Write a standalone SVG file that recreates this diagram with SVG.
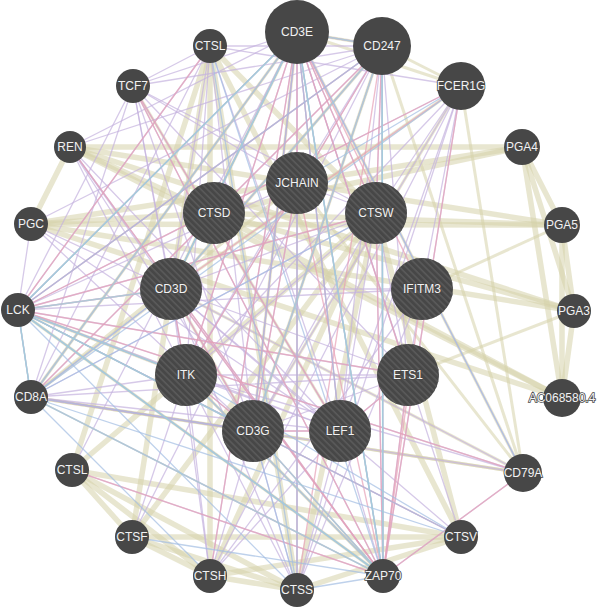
<svg xmlns="http://www.w3.org/2000/svg" width="600" height="609" viewBox="0 0 600 609">
<defs>
<style>
.e line{fill:none;stroke-linecap:round}
.d line{stroke:#d6d2aa;stroke-width:5.5;stroke-opacity:.55}
.d2 line{stroke:#d6d2aa;stroke-width:3;stroke-opacity:.55}
.c line{stroke:#c4b2de;stroke-width:1.3;stroke-opacity:.7}
.p line{stroke:#e7a1b6;stroke-width:1.4;stroke-opacity:.7}
.l line{stroke:#a3bde2;stroke-width:1.3;stroke-opacity:.7}
.w line{stroke:#9dd3dd;stroke-width:1.6;stroke-opacity:.7}
.n circle{fill:#474747}
.n circle.h{fill:url(#hatch)}
.n text{font-family:"Liberation Sans",Arial,sans-serif;font-size:12px;fill:#f2f2f2;text-anchor:middle;dominant-baseline:central;stroke:#474747;stroke-width:1.5;paint-order:stroke}
</style>
<pattern id="hatch" patternUnits="userSpaceOnUse" width="4.5" height="4.5" patternTransform="rotate(45)">
<rect x="0" y="0" width="4.5" height="1.6" fill="#5a5a5a"/>
</pattern>
</defs>
<rect width="600" height="609" fill="#ffffff"/>
<g id="connectors" class="e">
<g class="d">
<line x1="70" y1="147" x2="31" y2="224"/>
<line x1="70" y1="147" x2="574" y2="311"/>
<line x1="70" y1="147" x2="562" y2="225"/>
<line x1="70" y1="147" x2="522" y2="147"/>
<line x1="70" y1="147" x2="562" y2="398"/>
<line x1="70" y1="147" x2="214" y2="213"/>
<line x1="31" y1="224" x2="574" y2="311"/>
<line x1="31" y1="224" x2="562" y2="225"/>
<line x1="31" y1="224" x2="522" y2="147"/>
<line x1="31" y1="224" x2="562" y2="398"/>
<line x1="31" y1="224" x2="214" y2="213"/>
<line x1="574" y1="311" x2="562" y2="225"/>
<line x1="574" y1="311" x2="522" y2="147"/>
<line x1="574" y1="311" x2="562" y2="398"/>
<line x1="574" y1="311" x2="214" y2="213"/>
<line x1="562" y1="225" x2="522" y2="147"/>
<line x1="562" y1="225" x2="562" y2="398"/>
<line x1="562" y1="225" x2="214" y2="213"/>
<line x1="522" y1="147" x2="562" y2="398"/>
<line x1="522" y1="147" x2="214" y2="213"/>
<line x1="562" y1="398" x2="214" y2="213"/>
<line x1="210" y1="46" x2="72" y2="470"/>
<line x1="210" y1="46" x2="132" y2="537"/>
<line x1="210" y1="46" x2="210" y2="576"/>
<line x1="210" y1="46" x2="297" y2="590"/>
<line x1="210" y1="46" x2="461" y2="537"/>
<line x1="210" y1="46" x2="376" y2="213"/>
<line x1="72" y1="470" x2="132" y2="537"/>
<line x1="72" y1="470" x2="210" y2="576"/>
<line x1="72" y1="470" x2="297" y2="590"/>
<line x1="72" y1="470" x2="461" y2="537"/>
<line x1="72" y1="470" x2="376" y2="213"/>
<line x1="132" y1="537" x2="210" y2="576"/>
<line x1="132" y1="537" x2="297" y2="590"/>
<line x1="132" y1="537" x2="461" y2="537"/>
<line x1="132" y1="537" x2="376" y2="213"/>
<line x1="210" y1="576" x2="297" y2="590"/>
<line x1="210" y1="576" x2="461" y2="537"/>
<line x1="210" y1="576" x2="376" y2="213"/>
<line x1="297" y1="590" x2="461" y2="537"/>
<line x1="297" y1="590" x2="376" y2="213"/>
<line x1="461" y1="537" x2="376" y2="213"/>
</g>
<g class="d2">
<line x1="297" y1="32" x2="382" y2="46"/>
<line x1="297" y1="32" x2="461" y2="86"/>
<line x1="297" y1="32" x2="523" y2="473"/>
<line x1="297" y1="32" x2="171" y2="289"/>
<line x1="297" y1="32" x2="253" y2="431"/>
<line x1="382" y1="46" x2="461" y2="86"/>
<line x1="382" y1="46" x2="523" y2="473"/>
<line x1="382" y1="46" x2="171" y2="289"/>
<line x1="382" y1="46" x2="253" y2="431"/>
<line x1="461" y1="86" x2="523" y2="473"/>
<line x1="461" y1="86" x2="171" y2="289"/>
<line x1="461" y1="86" x2="253" y2="431"/>
<line x1="523" y1="473" x2="171" y2="289"/>
<line x1="523" y1="473" x2="253" y2="431"/>
<line x1="171" y1="289" x2="253" y2="431"/>
<line x1="31" y1="397" x2="297" y2="32"/>
<line x1="31" y1="397" x2="171" y2="289"/>
<line x1="31" y1="397" x2="253" y2="431"/>
<line x1="31" y1="397" x2="523" y2="473"/>
<line x1="18" y1="310" x2="186" y2="375"/>
<line x1="18" y1="310" x2="383" y2="576"/>
<line x1="186" y1="375" x2="383" y2="576"/>
<line x1="133" y1="86" x2="340" y2="431"/>
<line x1="297" y1="183" x2="31" y2="397"/>
<line x1="297" y1="183" x2="523" y2="473"/>
<line x1="422" y1="289" x2="562" y2="225"/>
<line x1="408" y1="375" x2="574" y2="311"/>
</g>
<g class="c">
<line x1="297" y1="32" x2="382" y2="46"/>
<line x1="297" y1="32" x2="171" y2="289"/>
<line x1="297" y1="32" x2="253" y2="431"/>
<line x1="297" y1="32" x2="186" y2="375"/>
<line x1="297" y1="32" x2="18" y2="310"/>
<line x1="297" y1="32" x2="31" y2="397"/>
<line x1="297" y1="32" x2="133" y2="86"/>
<line x1="297" y1="32" x2="340" y2="431"/>
<line x1="297" y1="32" x2="408" y2="375"/>
<line x1="297" y1="32" x2="383" y2="576"/>
<line x1="297" y1="32" x2="376" y2="213"/>
<line x1="382" y1="46" x2="171" y2="289"/>
<line x1="382" y1="46" x2="253" y2="431"/>
<line x1="382" y1="46" x2="186" y2="375"/>
<line x1="382" y1="46" x2="18" y2="310"/>
<line x1="382" y1="46" x2="31" y2="397"/>
<line x1="382" y1="46" x2="133" y2="86"/>
<line x1="382" y1="46" x2="340" y2="431"/>
<line x1="382" y1="46" x2="408" y2="375"/>
<line x1="382" y1="46" x2="383" y2="576"/>
<line x1="382" y1="46" x2="376" y2="213"/>
<line x1="171" y1="289" x2="253" y2="431"/>
<line x1="171" y1="289" x2="186" y2="375"/>
<line x1="171" y1="289" x2="18" y2="310"/>
<line x1="171" y1="289" x2="31" y2="397"/>
<line x1="171" y1="289" x2="133" y2="86"/>
<line x1="171" y1="289" x2="340" y2="431"/>
<line x1="171" y1="289" x2="408" y2="375"/>
<line x1="171" y1="289" x2="383" y2="576"/>
<line x1="171" y1="289" x2="376" y2="213"/>
<line x1="253" y1="431" x2="186" y2="375"/>
<line x1="253" y1="431" x2="18" y2="310"/>
<line x1="253" y1="431" x2="31" y2="397"/>
<line x1="253" y1="431" x2="133" y2="86"/>
<line x1="253" y1="431" x2="340" y2="431"/>
<line x1="253" y1="431" x2="408" y2="375"/>
<line x1="253" y1="431" x2="383" y2="576"/>
<line x1="253" y1="431" x2="376" y2="213"/>
<line x1="186" y1="375" x2="18" y2="310"/>
<line x1="186" y1="375" x2="31" y2="397"/>
<line x1="186" y1="375" x2="133" y2="86"/>
<line x1="186" y1="375" x2="340" y2="431"/>
<line x1="186" y1="375" x2="408" y2="375"/>
<line x1="186" y1="375" x2="383" y2="576"/>
<line x1="186" y1="375" x2="376" y2="213"/>
<line x1="18" y1="310" x2="31" y2="397"/>
<line x1="18" y1="310" x2="133" y2="86"/>
<line x1="18" y1="310" x2="340" y2="431"/>
<line x1="18" y1="310" x2="408" y2="375"/>
<line x1="18" y1="310" x2="383" y2="576"/>
<line x1="18" y1="310" x2="376" y2="213"/>
<line x1="31" y1="397" x2="133" y2="86"/>
<line x1="31" y1="397" x2="340" y2="431"/>
<line x1="31" y1="397" x2="408" y2="375"/>
<line x1="31" y1="397" x2="383" y2="576"/>
<line x1="31" y1="397" x2="376" y2="213"/>
<line x1="133" y1="86" x2="340" y2="431"/>
<line x1="133" y1="86" x2="408" y2="375"/>
<line x1="133" y1="86" x2="383" y2="576"/>
<line x1="133" y1="86" x2="376" y2="213"/>
<line x1="340" y1="431" x2="408" y2="375"/>
<line x1="340" y1="431" x2="383" y2="576"/>
<line x1="340" y1="431" x2="376" y2="213"/>
<line x1="408" y1="375" x2="383" y2="576"/>
<line x1="408" y1="375" x2="376" y2="213"/>
<line x1="383" y1="576" x2="376" y2="213"/>
<line x1="70" y1="147" x2="297" y2="32"/>
<line x1="70" y1="147" x2="382" y2="46"/>
<line x1="70" y1="147" x2="186" y2="375"/>
<line x1="70" y1="147" x2="340" y2="431"/>
<line x1="70" y1="147" x2="253" y2="431"/>
<line x1="70" y1="147" x2="171" y2="289"/>
<line x1="70" y1="147" x2="383" y2="576"/>
<line x1="210" y1="46" x2="133" y2="86"/>
<line x1="210" y1="46" x2="18" y2="310"/>
<line x1="210" y1="46" x2="31" y2="397"/>
<line x1="210" y1="46" x2="171" y2="289"/>
<line x1="210" y1="46" x2="186" y2="375"/>
<line x1="210" y1="46" x2="461" y2="86"/>
<line x1="210" y1="46" x2="382" y2="46"/>
<line x1="210" y1="46" x2="253" y2="431"/>
<line x1="210" y1="46" x2="340" y2="431"/>
<line x1="297" y1="183" x2="297" y2="32"/>
<line x1="297" y1="183" x2="382" y2="46"/>
<line x1="297" y1="183" x2="376" y2="213"/>
<line x1="297" y1="183" x2="186" y2="375"/>
<line x1="297" y1="183" x2="133" y2="86"/>
<line x1="297" y1="183" x2="18" y2="310"/>
<line x1="297" y1="183" x2="253" y2="431"/>
<line x1="422" y1="289" x2="297" y2="590"/>
<line x1="422" y1="289" x2="210" y2="576"/>
<line x1="422" y1="289" x2="461" y2="86"/>
<line x1="422" y1="289" x2="408" y2="375"/>
<line x1="422" y1="289" x2="18" y2="310"/>
<line x1="422" y1="289" x2="171" y2="289"/>
<line x1="461" y1="86" x2="297" y2="590"/>
<line x1="461" y1="86" x2="210" y2="576"/>
<line x1="461" y1="86" x2="376" y2="213"/>
<line x1="461" y1="86" x2="383" y2="576"/>
<line x1="461" y1="86" x2="18" y2="310"/>
<line x1="461" y1="86" x2="186" y2="375"/>
<line x1="461" y1="86" x2="253" y2="431"/>
<line x1="461" y1="86" x2="340" y2="431"/>
<line x1="523" y1="473" x2="18" y2="310"/>
<line x1="523" y1="473" x2="383" y2="576"/>
<line x1="523" y1="473" x2="171" y2="289"/>
<line x1="523" y1="473" x2="31" y2="397"/>
<line x1="523" y1="473" x2="186" y2="375"/>
<line x1="523" y1="473" x2="297" y2="32"/>
<line x1="297" y1="590" x2="297" y2="32"/>
<line x1="297" y1="590" x2="171" y2="289"/>
<line x1="297" y1="590" x2="186" y2="375"/>
<line x1="297" y1="590" x2="253" y2="431"/>
<line x1="297" y1="590" x2="340" y2="431"/>
<line x1="210" y1="576" x2="171" y2="289"/>
<line x1="210" y1="576" x2="253" y2="431"/>
<line x1="210" y1="576" x2="297" y2="32"/>
<line x1="210" y1="576" x2="186" y2="375"/>
<line x1="210" y1="576" x2="340" y2="431"/>
<line x1="461" y1="537" x2="18" y2="310"/>
<line x1="461" y1="537" x2="171" y2="289"/>
<line x1="461" y1="537" x2="297" y2="32"/>
<line x1="132" y1="537" x2="186" y2="375"/>
<line x1="132" y1="537" x2="382" y2="46"/>
<line x1="31" y1="224" x2="18" y2="310"/>
<line x1="31" y1="224" x2="171" y2="289"/>
<line x1="31" y1="224" x2="382" y2="46"/>
<line x1="31" y1="224" x2="340" y2="431"/>
<line x1="31" y1="224" x2="253" y2="431"/>
<line x1="72" y1="470" x2="297" y2="32"/>
<line x1="72" y1="470" x2="383" y2="576"/>
</g>
<g class="p">
<line x1="297" y1="32" x2="382" y2="46"/>
<line x1="297" y1="32" x2="171" y2="289"/>
<line x1="297" y1="32" x2="253" y2="431"/>
<line x1="171" y1="289" x2="253" y2="431"/>
<line x1="171" y1="289" x2="382" y2="46"/>
<line x1="253" y1="431" x2="382" y2="46"/>
<line x1="382" y1="46" x2="383" y2="576"/>
<line x1="297" y1="32" x2="383" y2="576"/>
<line x1="171" y1="289" x2="383" y2="576"/>
<line x1="253" y1="431" x2="383" y2="576"/>
<line x1="18" y1="310" x2="383" y2="576"/>
<line x1="18" y1="310" x2="31" y2="397"/>
<line x1="18" y1="310" x2="297" y2="32"/>
<line x1="18" y1="310" x2="382" y2="46"/>
<line x1="18" y1="310" x2="171" y2="289"/>
<line x1="18" y1="310" x2="253" y2="431"/>
<line x1="18" y1="310" x2="186" y2="375"/>
<line x1="186" y1="375" x2="383" y2="576"/>
<line x1="297" y1="32" x2="186" y2="375"/>
<line x1="18" y1="310" x2="408" y2="375"/>
<line x1="340" y1="431" x2="133" y2="86"/>
<line x1="340" y1="431" x2="408" y2="375"/>
<line x1="461" y1="86" x2="18" y2="310"/>
<line x1="461" y1="86" x2="383" y2="576"/>
<line x1="523" y1="473" x2="18" y2="310"/>
<line x1="523" y1="473" x2="383" y2="576"/>
<line x1="31" y1="397" x2="297" y2="32"/>
<line x1="31" y1="397" x2="383" y2="576"/>
<line x1="408" y1="375" x2="383" y2="576"/>
<line x1="186" y1="375" x2="253" y2="431"/>
<line x1="18" y1="310" x2="376" y2="213"/>
<line x1="297" y1="183" x2="383" y2="576"/>
<line x1="18" y1="310" x2="461" y2="537"/>
<line x1="297" y1="590" x2="297" y2="32"/>
<line x1="210" y1="46" x2="18" y2="310"/>
<line x1="171" y1="289" x2="461" y2="86"/>
<line x1="72" y1="470" x2="383" y2="576"/>
<line x1="210" y1="576" x2="297" y2="32"/>
<line x1="297" y1="32" x2="340" y2="431"/>
<line x1="297" y1="32" x2="408" y2="375"/>
<line x1="382" y1="46" x2="186" y2="375"/>
<line x1="382" y1="46" x2="31" y2="397"/>
<line x1="171" y1="289" x2="186" y2="375"/>
<line x1="253" y1="431" x2="31" y2="397"/>
<line x1="253" y1="431" x2="340" y2="431"/>
<line x1="383" y1="576" x2="376" y2="213"/>
<line x1="382" y1="46" x2="376" y2="213"/>
<line x1="297" y1="32" x2="376" y2="213"/>
<line x1="297" y1="183" x2="253" y2="431"/>
<line x1="422" y1="289" x2="297" y2="32"/>
<line x1="422" y1="289" x2="383" y2="576"/>
<line x1="70" y1="147" x2="383" y2="576"/>
<line x1="133" y1="86" x2="383" y2="576"/>
<line x1="297" y1="590" x2="382" y2="46"/>
</g>
<g class="l">
<line x1="297" y1="32" x2="18" y2="310"/>
<line x1="18" y1="310" x2="31" y2="397"/>
<line x1="18" y1="310" x2="383" y2="576"/>
<line x1="297" y1="32" x2="171" y2="289"/>
<line x1="382" y1="46" x2="18" y2="310"/>
<line x1="31" y1="397" x2="253" y2="431"/>
<line x1="383" y1="576" x2="297" y2="32"/>
<line x1="297" y1="32" x2="253" y2="431"/>
<line x1="382" y1="46" x2="383" y2="576"/>
<line x1="186" y1="375" x2="18" y2="310"/>
<line x1="31" y1="397" x2="171" y2="289"/>
<line x1="461" y1="537" x2="18" y2="310"/>
<line x1="461" y1="537" x2="31" y2="397"/>
<line x1="461" y1="537" x2="186" y2="375"/>
<line x1="297" y1="590" x2="18" y2="310"/>
<line x1="210" y1="576" x2="31" y2="397"/>
<line x1="297" y1="183" x2="461" y2="86"/>
<line x1="297" y1="183" x2="297" y2="590"/>
<line x1="376" y1="213" x2="31" y2="397"/>
<line x1="210" y1="46" x2="383" y2="576"/>
<line x1="132" y1="537" x2="383" y2="576"/>
<line x1="523" y1="473" x2="297" y2="32"/>
<line x1="461" y1="86" x2="31" y2="397"/>
<line x1="340" y1="431" x2="297" y2="32"/>
<line x1="297" y1="590" x2="383" y2="576"/>
<line x1="253" y1="431" x2="297" y2="590"/>
<line x1="210" y1="46" x2="297" y2="590"/>
</g>
<g class="w">
<line x1="297" y1="32" x2="382" y2="46"/>
<line x1="297" y1="32" x2="171" y2="289"/>
<line x1="382" y1="46" x2="171" y2="289"/>
<line x1="382" y1="46" x2="253" y2="431"/>
<line x1="18" y1="310" x2="383" y2="576"/>
<line x1="18" y1="310" x2="297" y2="32"/>
<line x1="383" y1="576" x2="297" y2="32"/>
<line x1="383" y1="576" x2="382" y2="46"/>
<line x1="186" y1="375" x2="18" y2="310"/>
<line x1="186" y1="375" x2="383" y2="576"/>
<line x1="31" y1="397" x2="18" y2="310"/>
<line x1="31" y1="397" x2="297" y2="32"/>
<line x1="31" y1="397" x2="383" y2="576"/>
<line x1="253" y1="431" x2="18" y2="310"/>
<line x1="253" y1="431" x2="383" y2="576"/>
<line x1="171" y1="289" x2="18" y2="310"/>
</g>
</g>
<g id="nodes" class="n">
<g id="node-CD3E"><circle cx="297" cy="32" r="32"/><text x="297" y="32">CD3E</text></g>
<g id="node-CD247"><circle cx="382" cy="46" r="29"/><text x="382" y="46">CD247</text></g>
<g id="node-FCER1G"><circle cx="461" cy="86" r="24"/><text x="461" y="86">FCER1G</text></g>
<g id="node-CTSL-top"><circle cx="210" cy="46" r="17"/><text x="210" y="46">CTSL</text></g>
<g id="node-TCF7"><circle cx="133" cy="86" r="17"/><text x="133" y="86">TCF7</text></g>
<g id="node-REN"><circle cx="70" cy="147" r="16"/><text x="70" y="147">REN</text></g>
<g id="node-PGC"><circle cx="31" cy="224" r="17"/><text x="31" y="224">PGC</text></g>
<g id="node-LCK"><circle cx="18" cy="310" r="17"/><text x="18" y="310">LCK</text></g>
<g id="node-CD8A"><circle cx="31" cy="397" r="17"/><text x="31" y="397">CD8A</text></g>
<g id="node-CTSL-left"><circle cx="72" cy="470" r="17"/><text x="72" y="470">CTSL</text></g>
<g id="node-CTSF"><circle cx="132" cy="537" r="17"/><text x="132" y="537">CTSF</text></g>
<g id="node-CTSH"><circle cx="210" cy="576" r="17"/><text x="210" y="576">CTSH</text></g>
<g id="node-CTSS"><circle cx="297" cy="590" r="17"/><text x="297" y="590">CTSS</text></g>
<g id="node-ZAP70"><circle cx="383" cy="576" r="17"/><text x="383" y="576">ZAP70</text></g>
<g id="node-CTSV"><circle cx="461" cy="537" r="17"/><text x="461" y="537">CTSV</text></g>
<g id="node-CD79A"><circle cx="523" cy="473" r="19"/><text x="523" y="473">CD79A</text></g>
<g id="node-AC068580.4"><circle cx="562" cy="398" r="19"/><text x="562" y="398">AC068580.4</text></g>
<g id="node-PGA3"><circle cx="574" cy="311" r="17"/><text x="574" y="311">PGA3</text></g>
<g id="node-PGA5"><circle cx="562" cy="225" r="18"/><text x="562" y="225">PGA5</text></g>
<g id="node-PGA4"><circle cx="522" cy="147" r="18"/><text x="522" y="147">PGA4</text></g>
<g id="node-JCHAIN"><circle cx="297" cy="183" r="31"/><circle class="h" cx="297" cy="183" r="31"/><text x="297" y="183">JCHAIN</text></g>
<g id="node-CTSD"><circle cx="214" cy="213" r="31"/><circle class="h" cx="214" cy="213" r="31"/><text x="214" y="213">CTSD</text></g>
<g id="node-CTSW"><circle cx="376" cy="213" r="31"/><circle class="h" cx="376" cy="213" r="31"/><text x="376" y="213">CTSW</text></g>
<g id="node-CD3D"><circle cx="171" cy="289" r="31"/><circle class="h" cx="171" cy="289" r="31"/><text x="171" y="289">CD3D</text></g>
<g id="node-IFITM3"><circle cx="422" cy="289" r="31"/><circle class="h" cx="422" cy="289" r="31"/><text x="422" y="289">IFITM3</text></g>
<g id="node-ITK"><circle cx="186" cy="375" r="31"/><circle class="h" cx="186" cy="375" r="31"/><text x="186" y="375">ITK</text></g>
<g id="node-ETS1"><circle cx="408" cy="375" r="31"/><circle class="h" cx="408" cy="375" r="31"/><text x="408" y="375">ETS1</text></g>
<g id="node-CD3G"><circle cx="253" cy="431" r="31"/><circle class="h" cx="253" cy="431" r="31"/><text x="253" y="431">CD3G</text></g>
<g id="node-LEF1"><circle cx="340" cy="431" r="31"/><circle class="h" cx="340" cy="431" r="31"/><text x="340" y="431">LEF1</text></g>
</g>
</svg>
